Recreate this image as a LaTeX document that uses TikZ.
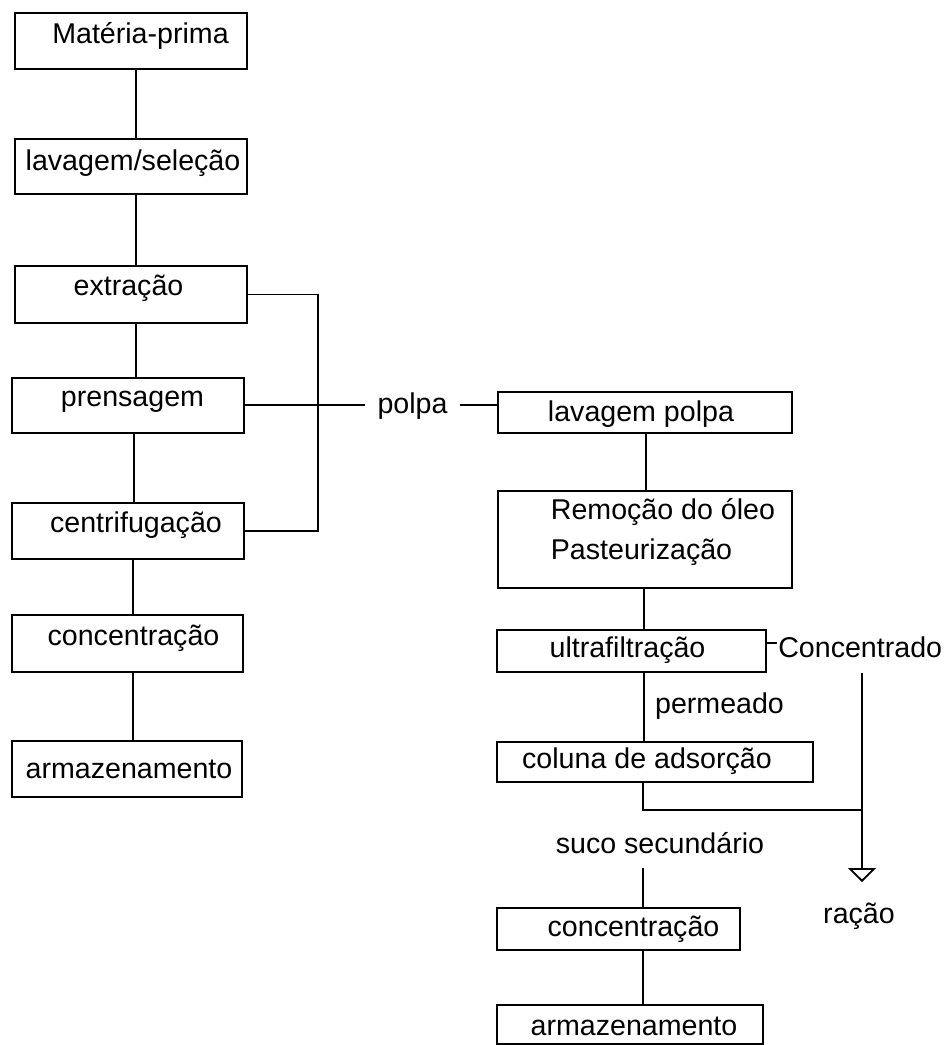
\documentclass[tikz,border=0pt]{standalone}
\usepackage{fontspec}
\setmainfont{Liberation Sans}
\usetikzlibrary{arrows.meta}
\newcommand{\tx}[3]{\makebox[0pt]{\hspace*{#1pt}\raisebox{-#2pt}{#3}}}
\begin{document}
\begin{tikzpicture}[x=1pt,y=-1pt,line width=1.8pt,
  every node/.style={font=\fontsize{28.6}{40}\selectfont, inner sep=0pt},
  box/.style 2 args={draw, text height=0pt, text depth=0pt, minimum width=#1pt, minimum height=#2pt},
  lbl/.style={anchor=base}]
\useasboundingbox (0,0) rectangle (944,1045);
% left column
\node[box={232}{56}]   (mp) at (131,41)    {\tx{19}{2.5}{Matéria-prima}};
\node[box={232}{54.7}] (ls) at (131,166.7) {\tx{4}{3.3}{lavagem/seleção}};
\node[box={232}{57.6}] (ex) at (131,294.5) {\tx{-5}{0.5}{extração}};
\node[box={232}{55}]   (pr) at (128,405.2) {\tx{9}{1.5}{prensagem}};
\node[box={232}{56}]   (ce) at (128,531.3) {\tx{16}{1.4}{centrifugação}};
\node[box={231}{56.7}] (co) at (127.5,643.7) {\tx{12}{1.3}{concentração}};
\node[box={230}{56}]   (ar) at (127,769)   {\tx{4}{9}{armazenamento}};
% right column
\node[box={294}{41.6}] (lp) at (645,412.5) {\tx{-8}{9}{lavagem polpa}};
\node[box={294}{97.3}] (rm) at (645,539.3) {\tx{36}{19.7}{\begin{tabular}[b]{@{}l@{}}Remoção do óleo\\Pasteurização\end{tabular}}};
\node[box={269}{41.7}] (uf) at (631.5,650.8) {\tx{-8}{6.5}{ultrafiltração}};
\node[box={316}{40.6}] (cd) at (655,762)   {\tx{-16}{6.3}{coluna de adsorção}};
\node[box={243}{41.7}] (c2) at (618.5,929.2) {\tx{30}{7.5}{concentração}};
\node[box={266}{39}]   (a2) at (630,1024.5) {\tx{8}{10.5}{armazenamento}};
% free labels
\node[lbl, inner xsep=12pt] (polpa) at (412.5,413) {polpa};
\node[anchor=base east] (conc) at (943,657) {Concentrado};
\node[lbl] (perm) at (719.5,713.5) {permeado};
\node[lbl] (suco) at (660,853.5) {suco secundário};
\node[lbl] (racao) at (859,923) {ração};
% columns
\coordinate (L1) at (136,0);
\coordinate (L2) at (134.3,0);
\coordinate (L3) at (133.3,0);
\coordinate (B)  at (318,0);
\coordinate (R1) at (646,0);
\coordinate (R2) at (644,0);
\coordinate (R3) at (643,0);
% left connectors
\draw (mp.south -| L1) -- (ls.north -| L1);
\draw (ls.south -| L1) -- (ex.north -| L1);
\draw (ex.south -| L1) -- (pr.north -| L1);
\draw (pr.south -| L2) -- (ce.north -| L2);
\draw (ce.south -| L3) -- (co.north -| L3);
\draw (co.south -| L3) -- (ar.north -| L3);
\draw (ex.east) -- (ex.east -| B) -- (ce.east -| B) -- (ce.east);
\draw (pr.east) -- (pr.east -| polpa.west);
\draw (pr.east -| polpa.east) -- (pr.east -| lp.west);
% right connectors
\draw (lp.south -| R1) -- (rm.north -| R1);
\draw (rm.south -| R2) -- (uf.north -| R2);
\draw (uf.south -| R2) -- (cd.north -| R2);
\coordinate (ufc) at ([yshift=7.8pt]uf.east);
\draw (ufc) -- (ufc -| conc.west);
\coordinate (cs) at (862,673);
\coordinate (tip) at (862,882);
\coordinate (jn) at (862,810);
\draw (cd.south -| R3) |- (jn);
\draw[-{Triangle[open,length=14pt,width=28pt]}] (cs) -- (tip);
\coordinate (sb) at (643,868);
\draw (sb) -- (c2.north -| sb);
\draw (c2.south -| R3) -- (a2.north -| R3);
\end{tikzpicture}
\end{document}
